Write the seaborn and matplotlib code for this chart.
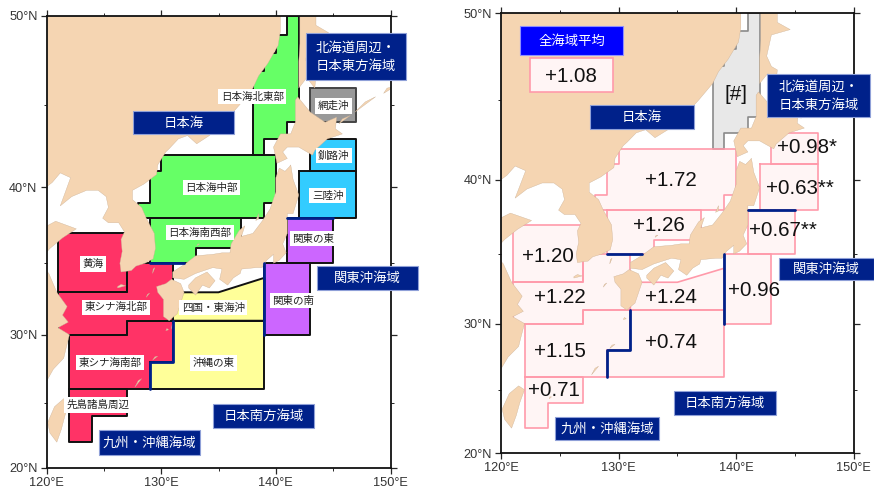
import numpy as np
import matplotlib
matplotlib.use("Agg")
import matplotlib.pyplot as plt
from matplotlib.patches import Rectangle
import seaborn as sns

sns.set_theme(style="ticks")
plt.rcParams['font.family'] = ['Noto Sans CJK JP', 'DejaVu Sans']

# ---------- sea-area polygons (lon, lat) ----------
NE_SOJ = [(141,50),(142,50),(142,44),(141,44),(141,43),(139,43),(139,42),(138,42),(138,47),(139,47),(139,48),(140,48),(140,49),(141,49)]
C_SOJ = [(130,42),(140,42),(140,39),(139,39),(139,38),(128,38),(128,39),(129,39),(129,41),(130,41)]
SW_SOJ = [(129,38),(137,38),(137,36),(133,36),(133,35),(129,35)]
YELLOW = [(121,37),(127,37),(127,33),(121,33)]
N_ECS = [(121,33),(127,33),(127,35),(131,35),(131,31),(127,31),(127,30),(121,30)]
S_ECS = [(122,30),(127,30),(127,31),(131,31),(131,28),(129,28),(129,26),(122,26)]
SAKI = [(122,26),(127,26),(127,24),(124,24),(124,22),(122,22)]
SHIKOKU = [(131,31),(139,31),(139,34),(135,33),(131,33)]
OKINAWA = [(131,31),(139,31),(139,26),(129,26),(129,28),(131,28)]
KANTO_E = [(141,38),(145,38),(145,35),(141,35)]
KANTO_S = [(139,35),(143,35),(143,30),(139,30)]
SANRIKU = [(142,41),(147,41),(147,38),(142,38)]
KUSHIRO = [(143,41),(147,41),(147,43),(143,43)]
ABASHIRI = [(143,46),(147,46),(147,44),(143,44)]

# boundary segments drawn in navy
BLUE_LINES = [
    [(129,35),(132,35)],
    [(141,38),(145,38)],
    [(139,35),(139,30)],
    [(131,31),(131,28),(129,28),(129,26)],
]

# ---------- coastlines (lon, lat) ----------
CONTINENT = [(140.5,51),(140.4,50),(140.4,49.2),(140.2,48.4),(139.3,47.4),(138.5,46.7),(138,46),(136.8,45),(135.5,44),
    (134.2,43.2),(133.1,42.7),(132.3,43.2),(131.5,43),(130.7,42.4),(130.4,42.2),(129.7,41.4),(129.6,40.8),(128.5,40.2),
    (127.5,39.8),(127.5,39.2),(128.3,38.7),(128.7,38),(129.4,37),(129.5,36),(129.3,35.3),(128.6,35),(127.8,34.8),
    (127.4,34.5),(126.5,34.4),(126.4,35),(126.6,35.8),(126.5,36.6),(126.8,37.1),(126.3,37.7),(125.4,37.7),(124.9,38),
    (125.4,38.7),(125.2,39.4),(124.5,39.8),(123.5,39.8),(122.2,39.4),(121.2,38.8),(121.6,39.6),(122.1,40.6),(121.2,40.9),
    (120.5,40.3),(119.6,39.8),(119,39.2),(118.8,38),(119.8,37.4),(120.8,37.8),(122.6,37.3),(121.4,36.7),(120.3,36),
    (119.3,35.1),(120.2,34.3),(120.9,33),(121.8,32),(121.4,31.4),(121.9,30.9),(121,30.5),(122,30),(121.7,29),
    (121.5,28.3),(120.6,27.5),(120,26.6),(119.6,25.7),(118,25),(118,51)]
TAIWAN = [(121.5,25.3),(122,25),(121.6,24),(121.3,23),(120.9,22),(120.3,22.7),(120.1,23.5),(120.7,24.7)]
SAKHALIN = [(142,51),(142.1,50),(142.1,48.5),(142,47.5),(142,46),(142.7,46.6),(143.4,46),(143.5,46.8),(143,47),
    (142.6,47.6),(143,48.8),(144.6,49.1),(143.5,49.5),(143.5,50),(143.7,51)]
HOKKAIDO = [(141.9,45.5),(143,44.6),(144.3,44),(145.3,44.3),(145.2,43.6),(145.8,43.3),(144.5,43),(143.4,42.3),(143.2,42),
    (142,42.5),(141,42.5),(140.6,42.2),(141,41.8),(140.1,41.5),(139.8,42.5),(140.4,43.3),(141.3,43.3),(141.7,44),(141.7,45.3)]
HONSHU = [(141.3,41.4),(141.5,40.5),(142,39.5),(141.5,38.3),(141,38.3),(141,37),(140.6,36.3),(140.9,35.7),(140.3,35.2),
    (139.8,35),(139.8,35.6),(139.2,35.2),(138.8,34.7),(138.3,34.7),(137,34.6),(136.9,34.3),(136.3,34),(135.8,33.5),
    (135.1,33.9),(135.3,34.6),(134.5,34.7),(133,34.3),(132,33.9),(131,34),(131,34.4),(132,34.9),(133,35.5),(134.5,35.6),
    (135.3,35.7),(136,35.7),(136.1,36.3),(136.8,37.2),(137.3,37.5),(137,36.8),(138,37),(138.8,37.8),(139.5,38.6),
    (140,39.7),(140,40.6),(140.3,41.2),(140.8,41),(141.2,41.3)]
SHIKOKU_IS = [(132.4,33.5),(133,34),(134,34.4),(134.7,33.8),(134.2,33.3),(133.6,33.5),(133,32.8),(132.4,33.3)]
KYUSHU = [(130.9,33.9),(131.7,33.6),(132,33),(131.4,31.5),(130.7,31),(130.2,31.3),(130.2,32.5),(129.7,33),(129.6,33.4),(130.4,33.6)]
ISLES = [
    [(145.5,43.9),(146.5,44.4),(145.8,44.2)],
    [(146.9,44.6),(148.7,45.5),(147.8,45.2)],
    [(149.4,45.7),(150.4,46.1),(149.7,46.0)],
    [(129.25,34.3),(129.45,34.7),(129.3,34.6)],
    [(128.7,32.65),(129.0,32.95),(128.8,32.85)],
    [(138.25,37.85),(138.5,38.3),(138.5,37.95)],
    [(133.1,36.15),(133.35,36.3),(133.2,36.3)],
    [(126.2,33.3),(126.9,33.45),(126.5,33.55),(126.2,33.4)],
    [(130.9,30.4),(131.05,30.8),(130.95,30.7)],
    [(130.4,30.3),(130.65,30.35),(130.5,30.45)],
    [(129.25,28.15),(129.7,28.45),(129.45,28.4)],
    [(127.7,26.15),(128.3,26.8),(128.0,26.65)],
    [(124.1,24.3),(124.3,24.45),(124.15,24.45)],
    [(125.2,24.72),(125.35,24.88),(125.22,24.85)],
]
LAND = [CONTINENT, TAIWAN, SAKHALIN, HOKKAIDO, HONSHU, SHIKOKU_IS, KYUSHU] + ISLES

# ---------- texts ----------
AREA_NAMES = ["日本海北東部","網走沖","釧路沖","日本海中部","三陸沖","日本海南西部","関東の東","黄海",
              "東シナ海北部","四国・東海沖","関東の南","東シナ海南部","沖縄の東","先島諸島周辺"]
AREA_POS = [(252.3,96.7),(333.3,106),(334,155.7),(211.7,187.7),(327.7,195.7),(200,232.7),(313.3,238.7),(93.3,264),
            (116,307.3),(213.3,307.7),(293.3,300.7),(110,362.7),(213.3,363),(98.3,405)]
TREND_LABELS = ["+1.72","+1.26","+0.98*","+0.63**","+0.67**","[#]","+1.20","+1.22","+1.24","+0.96","+1.15","+0.74","+0.71"]
TREND_POS = [(671,180.7),(658.7,225.7),(807,147.7),(800.3,188.3),(783,230),(736.3,95),(548,256),(559.7,297.3),
             (671.3,297.3),(753.7,290),(559.7,351.7),(671.3,342.7),(553.7,390.7)]
MEAN_LABEL = "+1.08"
GROUP_NAMES = ["北海道周辺・\n日本東方海域","日本海","関東沖海域","日本南方海域","九州・沖縄海域"]
BOX_LEFT = [(305.7,33.3,406,80),(133.3,110.7,234.3,134.3),(316.7,266,418.3,290),(213.3,404.3,314.3,428.3),(99.3,430,200.3,455)]
BOX_RIGHT = [(767,74,869.7,117.3),(590.3,105.3,693.7,128.7),(779.3,257.7,874,280),(673.7,391,776,415),(555.3,416.7,658.7,440)]
LON_TICKS = [120,130,140,150]
LAT_TICKS = [20,30,40,50]

NAVY = "#00218a"
LAND_C = "#f5d5b2"
PINK = "#ff9aaa"
PINK_F = "#fff5f5"
W, H = 874, 495

def merc(lat):
    return np.degrees(np.log(np.tan(np.pi/4 + np.radians(np.asarray(lat, float))/2)))
def imerc(m):
    return np.degrees(2*np.arctan(np.exp(np.radians(np.asarray(m, float)))) - np.pi/2)

fig = plt.figure(figsize=(W/100, H/100), dpi=100, facecolor="white")

def make_axes(l, t, r, b):
    ax = fig.add_axes([l/W, 1-b/H, (r-l)/W, (b-t)/H])
    ax.set_yscale("function", functions=(merc, imerc))
    return ax

def outline(ax, poly, color, lw, z=2.0):
    pts = list(poly) + [poly[0]]
    xs, ys = zip(*pts)
    sns.lineplot(x=list(xs), y=list(ys), sort=False, estimator=None, errorbar=None,
                 color=color, linewidth=lw, ax=ax, zorder=z, legend=False)

def segment(ax, seg, color, lw, z=2.2):
    xs, ys = zip(*seg)
    sns.lineplot(x=list(xs), y=list(ys), sort=False, estimator=None, errorbar=None,
                 color=color, linewidth=lw, ax=ax, zorder=z, legend=False)

def area(ax, poly, fc, ec, lw):
    xs, ys = zip(*poly)
    ax.fill(xs, ys, facecolor=fc, edgecolor="none", zorder=1)
    outline(ax, poly, ec, lw)

def finish(ax):
    for poly in LAND:
        xs, ys = zip(*poly)
        ax.fill(xs, ys, facecolor=LAND_C, edgecolor="#c9ae92", linewidth=0.25, zorder=3)
    for seg in BLUE_LINES:
        segment(ax, seg, NAVY, 2.0, z=3.2)
    ax.set_xlim(120, 150)
    ax.set_ylim(20, 50)
    ax.set_xticks(LON_TICKS)
    ax.set_xticklabels([f"{v}°E" for v in LON_TICKS])
    ax.set_yticks(LAT_TICKS)
    ax.set_yticklabels([f"{v}°N" for v in LAT_TICKS])
    ax.set_xticks([125,135,145], minor=True)
    ax.set_yticks([25,35,45], minor=True)
    ax.yaxis.set_minor_formatter(matplotlib.ticker.NullFormatter())
    ax.tick_params(which="major", direction="out", length=4, width=0.9, top=True, right=True,
                   labelsize=9.2, labelcolor="#333333", pad=2.5)
    ax.tick_params(which="minor", direction="out", length=2, width=0.7, top=True, right=True)
    for lab in ax.get_xticklabels() + ax.get_yticklabels():
        lab.set_family(["Liberation Sans", "DejaVu Sans"])
    for s in ax.spines.values():
        s.set_linewidth(1.3)
        s.set_color("#111111")
        s.set_visible(True)
        s.set_zorder(5)
    ax.set_xlabel("")
    ax.set_ylabel("")

def px_box(x0, y0, x1, y1, fc, ec, lw=0.8, z=6):
    fig.add_artist(Rectangle((x0/W, 1-y1/H), (x1-x0)/W, (y1-y0)/H, transform=fig.transFigure,
                             facecolor=fc, edgecolor=ec, linewidth=lw, zorder=z))

def px_text(x, y, s, size, color, **kw):
    fig.text(x/W, 1-y/H, s, ha="center", va="center", fontsize=size, color=color, zorder=8, **kw)

# left panel: sea-area map
ax1 = make_axes(46.5, 16, 390.5, 468)
BK = "#111111"
for poly, col in [(NE_SOJ,"#66ff66"),(C_SOJ,"#66ff66"),(SW_SOJ,"#66ff66"),
                  (YELLOW,"#ff3366"),(N_ECS,"#ff3366"),(S_ECS,"#ff3366"),(SAKI,"#ff3366"),
                  (SHIKOKU,"#ffff99"),(OKINAWA,"#ffff99"),
                  (KANTO_E,"#cc66ff"),(KANTO_S,"#cc66ff"),
                  (SANRIKU,"#33ccff"),(KUSHIRO,"#33ccff")]:
    area(ax1, poly, col, BK, 1.4)
area(ax1, ABASHIRI, "#999999", "#444444", 1.4)
finish(ax1)

# right panel: trends
ax2 = make_axes(501, 13.3, 853.7, 453.3)
area(ax2, NE_SOJ, "#e8e8e8", "#8a8a8a", 1.2)
for poly in [C_SOJ, SW_SOJ, YELLOW, N_ECS, S_ECS, SAKI, SHIKOKU, OKINAWA, KANTO_E, KANTO_S, SANRIKU, KUSHIRO]:
    area(ax2, poly, PINK_F, PINK, 1.2)
finish(ax2)

# area labels with white backing
for s, (x, y) in zip(AREA_NAMES, AREA_POS):
    fig.text(x/W, 1-y/H, s, ha="center", va="center", fontsize=7.6, color="#222222", zorder=8,
             bbox=dict(facecolor="white", edgecolor="none", pad=1.8))

# navy group titles
for s, (x0, y0, x1, y1) in list(zip(GROUP_NAMES, BOX_LEFT)) + list(zip(GROUP_NAMES, BOX_RIGHT)):
    px_box(x0, y0, x1, y1, NAVY, "#8fa0d8")
    px_text((x0+x1)/2, (y0+y1)/2, s, 9.6, "white", linespacing=1.35)

# all-sea mean
px_box(520.3, 26, 623, 55, "#0000ff", "#8f8fff")
px_text(571.6, 40.5, "全海域平均", 9.6, "white")
px_box(530.3, 58.3, 612.7, 92, PINK_F, PINK, lw=1.2)
px_text(571.3, 76.7, MEAN_LABEL, 14.8, "#111111", family=["Liberation Sans", "DejaVu Sans"])

for s, (x, y) in zip(TREND_LABELS, TREND_POS):
    px_text(x, y, s, 14.8, "#111111", family=["Liberation Sans", "DejaVu Sans"])

fig.savefig("out.png", dpi=100)
